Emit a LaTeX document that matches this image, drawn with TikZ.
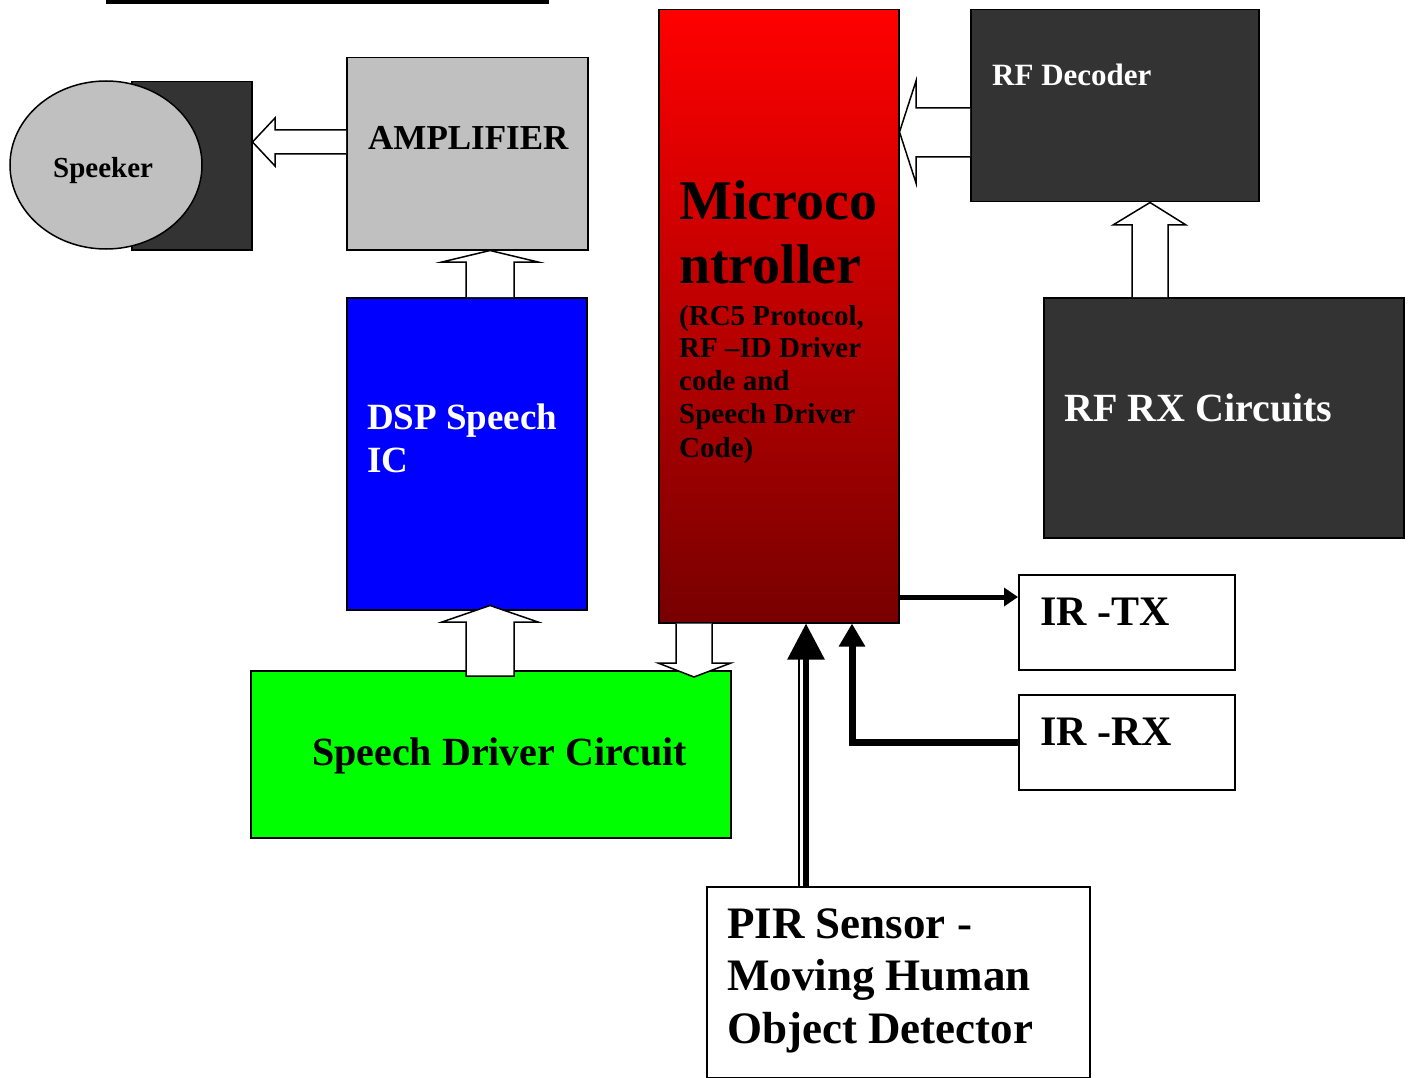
\documentclass[tikz,border=0pt]{standalone}
\usepackage{fontspec}
\setmainfont{Liberation Serif}
\usetikzlibrary{arrows.meta,calc,shapes.geometric}
\definecolor{darkbox}{RGB}{51,51,51}
\definecolor{ampgray}{RGB}{192,192,192}
\definecolor{mcudark}{RGB}{120,0,0}
\newcommand{\setsz}[1]{\fontsize{#1}{#1}\selectfont\bfseries}

\begin{document}
\begin{tikzpicture}[x=1pt,y=-1pt,
        box/.style={draw,line width=1.5pt,rectangle,inner sep=0,anchor=north west},
        lbl/.style={anchor=base west,inner sep=0},
        hollow/.style={draw,line width=1.5pt,fill=white,line join=miter}]
        \useasboundingbox (0,0) rectangle (1408,1078);
        \draw [line width=4pt] (106,2) -- (549,2);

        \node [box,fill=darkbox,minimum width=120,minimum height=168] (spkback) at (131,81) {};
        \node [draw,line width=1.5pt,ellipse,fill=ampgray,minimum width=192,minimum height=168,inner sep=0] (spk) at (106,165) {};
        \node [box,fill=ampgray,minimum width=241,minimum height=192] (amp) at (346,57) {};
        \node [box,fill=blue,minimum width=240,minimum height=312] (dsp) at (346,297) {};
        \node [box,fill=green,minimum width=480,minimum height=167] (drv) at (250,670) {};
        \node [box,top color=red,bottom color=mcudark,minimum width=240,minimum height=613] (mcu) at (658,9) {};
        \node [box,fill=darkbox,minimum width=288,minimum height=192] (rfdec) at (970,9) {};
        \node [box,fill=darkbox,minimum width=360,minimum height=240] (rfrx) at (1043,297) {};
        \node [box,minimum width=216,minimum height=95] (irtx) at (1018,574) {};
        \node [box,minimum width=216,minimum height=95] (irrx) at (1018,694) {};
        \node [box,minimum width=383,minimum height=191] (pir) at (706,886) {};

        \draw [hollow] (amp.west |- 0,130) -- (275,130) -- (275,118) -- (spkback.east |- 0,142)
        -- (275,166) -- (275,154) -- (amp.west |- 0,154);
        \draw [hollow] (466,0 |- dsp.north) -- (466,262) -- (442,262) -- (490,0 |- amp.south)
        -- (538,262) -- (514,262) -- (514,0 |- dsp.north);
        \draw [hollow] ($(drv.north -| 466,0)+(0,6)$) -- (466,622) -- (442,622) -- ($(dsp.south -| 490,0)+(0,-5)$)
        -- (538,622) -- (514,622) -- ($(drv.north -| 514,0)+(0,6)$) -- cycle;
        \draw [hollow] (676,0 |- mcu.south) -- (676,663) -- (658,663) -- ($(drv.north -| 694,0)+(0,7)$)
        -- (731,663) -- (712,663) -- (712,0 |- mcu.south);
        \draw [hollow] (rfdec.west |- 0,108) -- (916,108) -- (916,81) -- (mcu.east |- 0,132)
        -- (916,183) -- (916,157) -- (rfdec.west |- 0,157);
        \draw [hollow] (1132,0 |- rfrx.north) -- (1132,225) -- (1113,225) -- (1150,0 |- rfdec.south)
        -- (1186,225) -- (1168,225) -- (1168,0 |- rfrx.north);

        \draw [line width=5pt,-{Triangle[length=14pt,width=18pt]}] (mcu.east |- 0,597) -- (irtx.west |- 0,597);
        \draw [line width=7pt,-{Triangle[length=23pt,width=25pt]}] (irrx.west |- 0,742) -| (852,0 |- mcu.south);
        \draw [line width=6pt,-{Triangle[length=36pt,width=36pt]}] (806,0 |- pir.north) -- (806,0 |- mcu.south);
        \draw [line width=1.5pt] (799,0 |- pir.north) -- (799,658);

        \node [lbl] (spkT) at (53,178) {\setsz{29}Speeker};
        \node [lbl] (ampT) at (368,150) {\setsz{35}AMPLIFIER};
        \node [lbl,text=white] (dspT1) at (367,429) {\setsz{37}DSP Speech};
        \node [lbl,text=white] (dspT2) at (367,472) {\setsz{37}IC};
        \node [lbl] (drvT) at (312,765) {\setsz{40}Speech Driver Circuit};
        \node [lbl] (mcuT1) at (679,220) {\setsz{56}Microco};
        \node [lbl] (mcuT2) at (679,283) {\setsz{56}ntroller};
        \foreach \mline/\yy [count=\i] in {{(RC5 Protocol,}/325,{RF –ID Driver}/357,{code and}/390,{Speech Driver}/423,{Code)}/457}
            \node [lbl] (mcuS\i) at (679,\yy) {\setsz{29}\mline};
        \node [lbl,text=white] (rfdecT) at (992,86) {\setsz{31}RF Decoder};
        \node [lbl,text=white] (rfrxT) at (1064,421) {\setsz{40}RF RX Circuits};
        \node [lbl] (irtxT) at (1040,625) {\setsz{42}IR -TX};
        \node [lbl] (irrxT) at (1040,745) {\setsz{42}IR -RX};
        \node [lbl] (pirT1) at (727,938) {\setsz{45}PIR Sensor -};
        \node [lbl] (pirT2) at (727,990) {\setsz{45}Moving Human};
        \node [lbl] (pirT3) at (727,1043) {\setsz{45}Object Detector};
    \end{tikzpicture}
\end{document}
